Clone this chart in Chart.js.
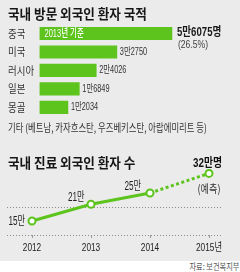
<!DOCTYPE html>
<html>
<head>
<meta charset="utf-8">
<script src="https://cdn.jsdelivr.net/npm/chart.js@4.4.1/dist/chart.umd.min.js"></script>
<style>
  html, body { margin: 0; padding: 0; }
  body { width: 240px; height: 272px; background: #fff; position: relative; overflow: hidden;
         font-family: "Noto Sans CJK KR", sans-serif; }
  #bg { position: absolute; left: 0; top: 0; width: 240px; height: 261px; background: #ebebeb; }
  .title { position: absolute; left: 8px; font-size: 14px; font-weight: bold; color: #161616;
           line-height: 1; white-space: nowrap; transform: scaleX(0.9); transform-origin: 0 0; }
  #etc { position: absolute; left: 8px; top: 122px; font-size: 11px; color: #333; line-height: 1;
         white-space: nowrap; transform: scaleX(0.76); transform-origin: 0 0; }
  #src { position: absolute; right: 1px; top: 261px; font-size: 9px; color: #555; line-height: 11px;
         white-space: nowrap; transform: scaleX(0.8); transform-origin: 100% 0; }
  canvas { position: absolute; left: 0; }
  #bars { top: 20px; }
  #trend { top: 145px; }
</style>
</head>
<body>
<div id="bg"></div>
<canvas id="bars" width="240" height="100"></canvas>
<canvas id="trend" width="240" height="115"></canvas>
<div class="title" style="top:6px">국내 방문 외국인 환자 국적</div>
<div id="etc">기타 (베트남, 카자흐스탄, 우즈베키스탄, 아랍에미리트 등)</div>
<div class="title" style="top:155px">국내 진료 외국인 환자 수</div>
<div id="src">자료: 보건복지부</div>
<script>
// 국적별 외국인 환자 (2013년 기준, 명)
const countries = ['중국', '미국', '러시아', '일본', '몽골'];
const patients = [56075, 32750, 24026, 16849, 12034];
const shares = [26.5];

// 연도별 외국인 환자 수 (만명), 2015년은 예측
const years = ['2012', '2013', '2014', '2015'];
const yearLabels = ['2012', '2013', '2014', '2015년'];
const visitors = [15, 21, 25, 32];

const GREEN = '#5cc41c';
const NUM = '"Liberation Sans", "Noto Sans CJK KR", sans-serif';
const KR = '"Noto Sans CJK KR", sans-serif';

// 좁은 글꼴 느낌을 내기 위해 가로로 줄여서 그린다
function txt(ctx, s, x, y, font, color, align, sx) {
    ctx.save();
    ctx.font = font;
    ctx.fillStyle = color;
    ctx.textAlign = align;
    ctx.textBaseline = 'middle';
    ctx.translate(x, y);
    ctx.scale(sx, 1);
    ctx.fillText(s, 0, 0);
    ctx.restore();
}

const man = v => Math.floor(v / 10000) + '만' + (v % 10000);

const barLabels = {
    id: 'barLabels',
    afterDatasetsDraw(chart) {
        const ctx = chart.ctx;
        const yScale = chart.scales.y;
        countries.forEach((c, i) => {
            txt(ctx, c, 8, yScale.getPixelForTick(i), '11px ' + KR, '#333', 'left', 0.86);
        });
        chart.getDatasetMeta(0).data.forEach((bar, i) => {
            if (i === 0) {
                txt(ctx, man(patients[i]) + '명', bar.x + 5, bar.y - 0.5, 'bold 12px ' + NUM, '#1a1a1a', 'left', 0.8);
                txt(ctx, '(' + shares[0] + '%)', bar.x + 6, bar.y + 12, '10px ' + NUM, '#444', 'left', 0.86);
                txt(ctx, '2013년 기준', bar.base + 5, bar.y, '500 11px ' + NUM, '#fff', 'left', 0.68);
            } else {
                txt(ctx, man(patients[i]), bar.x + 3, bar.y, '10.5px ' + NUM, '#333', 'left', 0.7);
            }
        });
    }
};

new Chart(document.getElementById('bars'), {
    type: 'bar',
    data: {
        labels: countries,
        datasets: [{
            data: patients,
            backgroundColor: GREEN,
            borderWidth: 0,
            barThickness: 12.5
        }]
    },
    options: {
        indexAxis: 'y',
        responsive: false,
        animation: false,
        events: [],
        layout: { padding: { top: 4.3, bottom: 3.4, right: 8, left: 0 } },
        plugins: { legend: { display: false }, tooltip: { enabled: false } },
        scales: {
            x: { display: false, min: 0, max: 81500 },
            y: {
                grid: { display: false },
                border: { display: false },
                ticks: { display: false },
                afterFit: s => { s.width = 39.5; }
            }
        }
    },
    plugins: [barLabels]
});

const trendDeco = {
    id: 'trendDeco',
    beforeDatasetsDraw(chart) {
        const ctx = chart.ctx;
        const yScale = chart.scales.y;
        ctx.save();
        ctx.strokeStyle = '#8a8a8a';
        ctx.lineWidth = 1;
        ctx.setLineDash([1, 2]);
        yScale.ticks.forEach(t => {
            const y = Math.round(yScale.getPixelForValue(t.value)) + 0.5;
            ctx.beginPath();
            ctx.moveTo(7, y);
            ctx.lineTo(223, y);
            ctx.stroke();
        });
        ctx.restore();
    },
    afterDatasetsDraw(chart) {
        const ctx = chart.ctx;
        const xScale = chart.scales.x;
        const pts = chart.getDatasetMeta(0).data;
        const f = '12px ' + NUM;
        txt(ctx, visitors[0] + '만', pts[0].x - 7, pts[0].y + 0.8, f, '#222', 'right', 0.68);
        txt(ctx, visitors[1] + '만', pts[1].x - 6.5, pts[1].y - 7, f, '#222', 'right', 0.68);
        txt(ctx, visitors[2] + '만', pts[2].x - 9, pts[2].y - 6, f, '#222', 'right', 0.68);
        txt(ctx, visitors[3] + '만명', pts[3].x - 1.5, pts[3].y - 9.5, 'bold 12px ' + NUM, '#111', 'center', 0.82);
        txt(ctx, '(예측)', pts[3].x, pts[3].y + 15, '11px ' + KR, '#333', 'center', 0.83);
        yearLabels.forEach((l, i) => {
            txt(ctx, l, xScale.getPixelForTick(i), 247.5 - 145, '11.5px ' + NUM, '#222', 'center', 0.72);
        });
    }
};

new Chart(document.getElementById('trend'), {
    type: 'line',
    data: {
        labels: years,
        datasets: [{
            data: visitors,
            borderColor: GREEN,
            borderWidth: 3,
            tension: 0,
            clip: false,
            pointRadius: 3.5,
            pointBorderWidth: 2,
            pointBackgroundColor: '#fff',
            pointBorderColor: GREEN,
            segment: {
                borderDash: c => c.p1DataIndex === visitors.length - 1 ? [3, 2.5] : undefined
            }
        }]
    },
    options: {
        responsive: false,
        animation: false,
        events: [],
        layout: { padding: { top: 22.8, bottom: 0, left: 32, right: 31 } },
        plugins: { legend: { display: false }, tooltip: { enabled: false } },
        scales: {
            x: {
                offset: false,
                grid: { display: true, drawOnChartArea: false, drawTicks: true, tickLength: 3, color: '#999' },
                border: { display: false },
                ticks: { display: false },
                afterFit: s => { s.height = 25; }
            },
            y: {
                min: 10,
                max: 34,
                ticks: { display: false, stepSize: 10 },
                grid: { display: false },
                border: { display: false },
                afterBuildTicks: s => { s.ticks = s.ticks.filter(t => t.value % 10 === 0); },
                afterFit: s => { s.width = 0; }
            }
        }
    },
    plugins: [trendDeco]
});
</script>
</body>
</html>
